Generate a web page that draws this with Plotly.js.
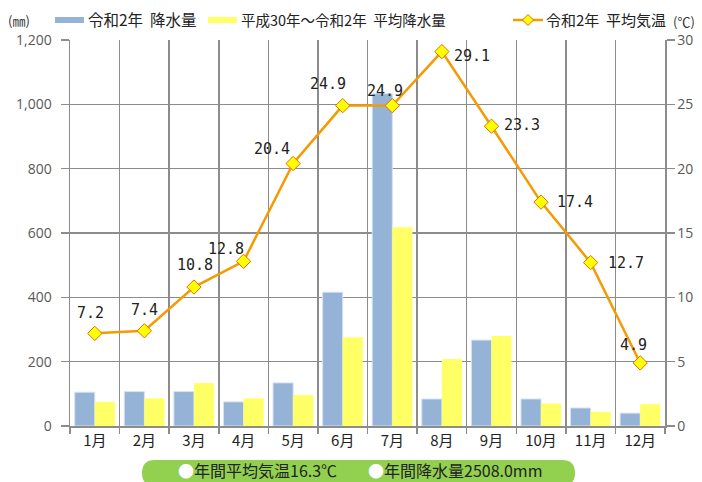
<!DOCTYPE html>
<html>
<head>
<meta charset="utf-8">
<script src="https://cdn.plot.ly/plotly-3.0.1.min.js"></script>
<style>html,body{margin:0;padding:0;background:#fff;}#chart{width:702px;height:482px;}</style>
</head>
<body>
<div id="chart"></div>
<script>
const months = ['1月','2月','3月','4月','5月','6月','7月','8月','9月','10月','11月','12月'];
const rain2020 = [105,107,107,75,134,416,1033,84,267,84,56,40];
const rainAvg = [75,86,134,86,96,276,618,208,280,70,44,68];
const temp2020 = [7.2,7.4,10.8,12.8,20.4,24.9,24.9,29.1,23.3,17.4,12.7,4.9];
const seriesNames = ['令和2年&nbsp;&nbsp;降水量','平成30年～令和2年&nbsp;&nbsp;平均降水量','令和2年&nbsp;&nbsp;平均気温'];
const annualTemp = '16.3℃';
const annualRain = '2508.0mm';

const W = 702, H = 482;
const L = 70, R = 665, T = 40, B = 426;
const px = x => (x - L) / (R - L);
const py = y => (B - y) / (B - T);

// label offsets (pixels) relative to each point
const labelDx = [-4, 0, 1, -18, -21, -15, -7, 30, 31, 34, 35, -7];
const labelDy = [20, 21, 22, 12, 15, 22, 15, -4, 1, 0, 0, 18];

const jp = '"Noto Sans CJK JP", "Noto Sans", sans-serif';
const grid = '#8c8c8c';

const traces = [
  {type:'bar', x:months, y:rain2020, name:'令和2年 降水量',
   marker:{color:'#95B3D7', line:{color:'#d6e2f1', width:1}}, showlegend:false},
  {type:'bar', x:months, y:rainAvg, name:'平成30年～令和2年 平均降水量',
   marker:{color:'#FFFF66', line:{width:0}}, showlegend:false},
  {type:'scatter', mode:'lines+markers', x:months, y:temp2020, yaxis:'y2', name:'令和2年 平均気温',
   cliponaxis:false,
   line:{color:'#F59A00', width:2.5},
   marker:{symbol:'diamond', size:11, color:'#FFFF00', line:{color:'#E36C09', width:1}},
   showlegend:false}
];

// rounded pill
const pl = 142, pr = 575, pt = 460, pb = 486, rr = 13;
const pt2 = (x,y) => px(x) + ',' + py(y);
const pillPath = 'M' + pt2(pl+rr,pt) + ' L' + pt2(pr-rr,pt) +
  ' Q' + pt2(pr,pt) + ' ' + pt2(pr,(pt+pb)/2) +
  ' Q' + pt2(pr,pb) + ' ' + pt2(pr-rr,pb) +
  ' L' + pt2(pl+rr,pb) +
  ' Q' + pt2(pl,pb) + ' ' + pt2(pl,(pt+pb)/2) +
  ' Q' + pt2(pl,pt) + ' ' + pt2(pl+rr,pt) + ' Z';

const shapes = [
  {type:'rect', xref:'paper', yref:'paper', x0:px(55), x1:px(84), y0:py(23), y1:py(17),
   fillcolor:'#95B3D7', line:{width:0}},
  {type:'rect', xref:'paper', yref:'paper', x0:px(208), x1:px(237), y0:py(23), y1:py(17),
   fillcolor:'#FFFF66', line:{width:0}},
  {type:'line', xref:'paper', yref:'paper', x0:px(513), x1:px(543), y0:py(20), y1:py(20),
   line:{color:'#F59A00', width:2.5}},
  {type:'path', xref:'paper', yref:'paper',
   path:'M'+pt2(528,14.5)+' L'+pt2(533.5,20)+' L'+pt2(528,25.5)+' L'+pt2(522.5,20)+' Z',
   fillcolor:'#FFFF00', line:{color:'#E36C09', width:1}},
  {type:'path', xref:'paper', yref:'paper', path:pillPath, fillcolor:'#92D050', line:{width:0}}
];

const ann = (x, y, text, opts) => Object.assign({xref:'paper', yref:'paper', x:px(x), y:py(y),
  text:text, showarrow:false, xanchor:'left', yanchor:'middle',
  font:{family:jp, size:15, color:'#222'}}, opts || {});

const annotations = [
  ann(6, 20, '(㎜)', {font:{family:jp, size:13, color:'#333'}}),
  ann(86, 19, seriesNames[0], {font:{family:jp, size:15.5, color:'#222'}}),
  ann(239, 19, seriesNames[1], {font:{family:jp, size:14.5, color:'#222'}}),
  ann(544, 19, seriesNames[2], {font:{family:jp, size:15, color:'#222'}}),
  ann(671, 21, '(℃)', {font:{family:jp, size:13, color:'#333'}}),
  ann(176, 470, '<span style="color:#ffffff">●</span>年間平均気温' + annualTemp, {font:{family:jp, size:16, color:'#222'}}),
  ann(366, 470, '<span style="color:#ffffff">●</span>年間降水量' + annualRain, {font:{family:jp, size:16, color:'#222'}})
];

temp2020.forEach((v, i) => {
  annotations.push({xref:'x', yref:'y2', x:months[i], y:v, text:v.toFixed(1), showarrow:false,
    xanchor:'center', yanchor:'middle', xshift:labelDx[i], yshift:labelDy[i],
    font:{family:'"DejaVu Sans Mono", monospace', size:15, color:'#222'}});
});

const layout = {
  width:W, height:H,
  margin:{l:L, r:W-R, t:T, b:H-B, pad:0},
  paper_bgcolor:'#fff', plot_bgcolor:'#fff',
  barmode:'group', bargap:0.19, bargroupgap:0,
  showlegend:false,
  xaxis:{type:'category', range:[-0.5, 11.5], autorange:false, automargin:false,
    tickson:'boundaries', ticks:'outside', ticklen:6, tickwidth:1.5, tickcolor:grid,
    showgrid:true, gridcolor:grid, gridwidth:1.5, showline:true, linecolor:grid, linewidth:1.5,
    tickfont:{family:jp, size:15, color:'#222'}, fixedrange:true},
  yaxis:{range:[0,1200], autorange:false, automargin:false, dtick:200, tickformat:',d', ticks:'outside', ticklen:8, tickwidth:1.5, tickcolor:grid,
    showgrid:true, gridcolor:grid, gridwidth:1.5, showline:true, linecolor:grid, linewidth:1.5,
    zeroline:false, ticklabelstandoff:6,
    tickfont:{family:'"Open Sans", "Noto Sans", sans-serif', size:14, color:'#595959'}},
  yaxis2:{range:[0,30], autorange:false, automargin:false, dtick:5, overlaying:'y', side:'right', ticks:'outside', ticklen:8, tickwidth:1.5,
    tickcolor:grid, showgrid:false, showline:true, linecolor:grid, linewidth:1.5, zeroline:false,
    tickfont:{family:'"Open Sans", "Noto Sans", sans-serif', size:14, color:'#595959'}},
  shapes:shapes,
  annotations:annotations
};

Plotly.newPlot('chart', traces, layout, {displayModeBar:false, staticPlot:true});
</script>
</body>
</html>
